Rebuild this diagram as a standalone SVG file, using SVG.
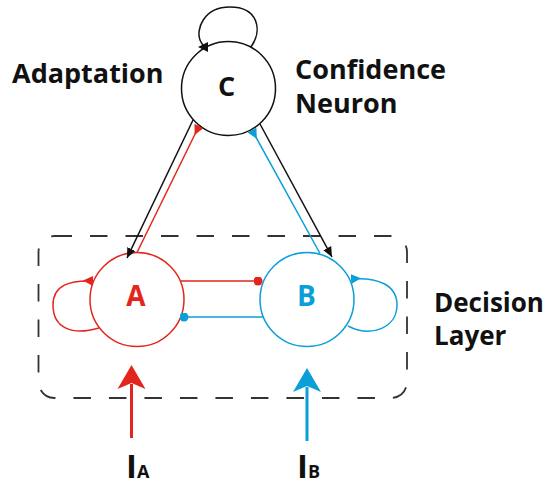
<svg xmlns="http://www.w3.org/2000/svg" width="545" height="483" viewBox="0 0 545 483">
<style>
.lbl{font-family:"Open Sans","Liberation Sans",sans-serif;font-weight:bold;font-size:27px;fill:#111}
.node{fill:#fff;stroke-width:1.5}
.blk{stroke:#111;fill:none;stroke-width:1.5}
.red{stroke:#E2261D;fill:none;stroke-width:1.5}
.cyan{stroke:#0A9FD8;fill:none;stroke-width:1.5}
</style>
<defs>
<marker id="arrBlk" viewBox="0 0 10 10" refX="10" refY="5" markerWidth="10" markerHeight="10" markerUnits="userSpaceOnUse" orient="auto"><path d="M0,0.5 L10,5 L0,9.5 z" fill="#111"/></marker>
<marker id="revBlk" viewBox="0 0 10 10" refX="10" refY="5" markerWidth="10" markerHeight="10" markerUnits="userSpaceOnUse" orient="auto"><path d="M10,0 L10,10 L0,5 z" fill="#111"/></marker>
<marker id="revRed" viewBox="0 0 10 10" refX="10" refY="5" markerWidth="10" markerHeight="10" markerUnits="userSpaceOnUse" orient="auto"><path d="M10,0 L10,10 L0,5 z" fill="#E2261D"/></marker>
<marker id="revCyan" viewBox="0 0 10 10" refX="10" refY="5" markerWidth="10" markerHeight="10" markerUnits="userSpaceOnUse" orient="auto"><path d="M10,0 L10,10 L0,5 z" fill="#0A9FD8"/></marker>
<marker id="dotRed" viewBox="0 0 10 10" refX="5" refY="5" markerWidth="9" markerHeight="9" markerUnits="userSpaceOnUse"><circle cx="5" cy="5" r="5" fill="#E2261D"/></marker>
<marker id="dotCyan" viewBox="0 0 10 10" refX="5" refY="5" markerWidth="9" markerHeight="9" markerUnits="userSpaceOnUse"><circle cx="5" cy="5" r="5" fill="#0A9FD8"/></marker>
</defs>

<rect id="decision-layer" x="38.5" y="236" width="368.5" height="162" rx="16" fill="none" stroke="#333" stroke-width="1.8" stroke-dasharray="17.5 18"/>

<g id="node-C">
<circle class="node" cx="228.5" cy="88.5" r="47" stroke="#111"/>
<text class="lbl" x="226.5" y="96" text-anchor="middle" font-size="28">C</text>
</g>
<g id="node-A">
<circle class="node" cx="137" cy="299.5" r="47" stroke="#E2261D"/>
<text class="lbl" x="136" y="306" text-anchor="middle" style="fill:#E2261D;font-size:28px">A</text>
</g>
<g id="node-B">
<circle class="node" cx="307" cy="299.5" r="47" stroke="#0A9FD8"/>
<text class="lbl" x="306.5" y="305.5" text-anchor="middle" style="fill:#0A9FD8;font-size:28px">B</text>
</g>

<g id="labels">
<text class="lbl" x="12" y="83">Adaptation</text>
<text class="lbl" x="295" y="79">Confidence</text>
<text class="lbl" x="295" y="113">Neuron</text>
<text class="lbl" x="434" y="312" style="font-size:26px">Decision</text>
<text class="lbl" x="434" y="345" style="font-size:26px">Layer</text>
</g>

<g id="input-A">
<line x1="131.5" y1="438" x2="131.5" y2="384" stroke="#E2261D" stroke-width="3"/>
<path d="M131.5,365 L145.5,389 L131.5,383 L117.5,389 Z" fill="#E2261D"/>
<text class="lbl" x="126" y="478"><tspan style="font-size:33px">I</tspan><tspan style="font-size:18px">A</tspan></text>
</g>
<g id="input-B">
<line x1="307" y1="441" x2="307" y2="387" stroke="#0A9FD8" stroke-width="3"/>
<path d="M307,368 L321,392 L307,386 L293,392 Z" fill="#0A9FD8"/>
<text class="lbl" x="297" y="478"><tspan style="font-size:33px">I</tspan><tspan style="font-size:18px">B</tspan></text>
</g>

<g id="connectors">
<path class="blk" d="M251,47 C263,30 258,7 230,7 C203,7 196,30 200,40 C202,45 205,47 208,47" marker-end="url(#revBlk)"/>
<line class="blk" x1="193" y1="120" x2="127" y2="258" marker-end="url(#arrBlk)"/>
<line class="red" x1="137" y1="252.5" x2="199" y2="126" marker-end="url(#revRed)"/>
<line class="blk" x1="260" y1="124" x2="332" y2="257" marker-end="url(#arrBlk)"/>
<line class="cyan" x1="320" y1="253.5" x2="252" y2="130" marker-end="url(#revCyan)"/>
<line class="red" x1="181" y1="281" x2="258" y2="281" marker-end="url(#dotRed)"/>
<line class="cyan" x1="263" y1="317" x2="184" y2="317" marker-end="url(#dotCyan)"/>
<path class="red" d="M99,328 C72,336 53,328 53,305 C53,285 70,280 93,281" marker-end="url(#revRed)"/>
<path class="cyan" d="M348,326 C371,338 397,328 397,305 C397,285 378,277 351,279" marker-end="url(#revCyan)"/>
</g>
</svg>
